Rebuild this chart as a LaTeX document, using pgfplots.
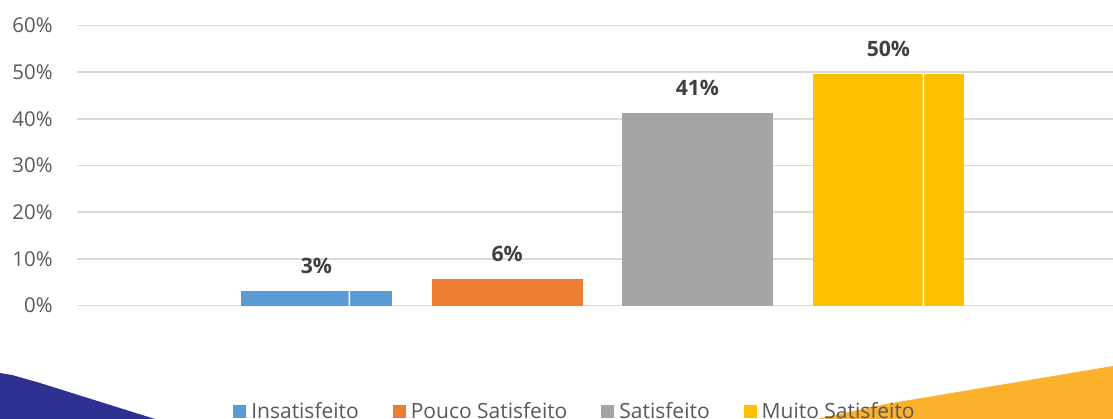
\documentclass[border=0pt]{standalone}
\usepackage{pgfplots}
\pgfplotsset{compat=1.18}
\usepackage{fontspec}
\setmainfont{Open Sans}
\definecolor{cBlue}{HTML}{5B9BD5}
\definecolor{cOrange}{HTML}{ED7D31}
\definecolor{cGray}{HTML}{A5A5A5}
\definecolor{cGold}{HTML}{FFC000}
\definecolor{gridc}{HTML}{D9D9D9}
\definecolor{tickc}{HTML}{595959}
\definecolor{labc}{HTML}{404040}
\definecolor{navy}{HTML}{2E3192}
\definecolor{amber}{HTML}{FBB12B}
\begin{document}
\begin{tikzpicture}
\useasboundingbox (0bp,0bp) rectangle (556.5bp,209.5bp);
\clip (0bp,0bp) rectangle (556.5bp,209.5bp);
\fill[navy] (0bp,23bp) -- (6bp,22bp) -- (20bp,18bp) -- (77.5bp,0bp) -- (0bp,0bp) -- cycle;
\fill[amber] (408bp,0bp) -- (443bp,7.5bp) -- (556.5bp,26.5bp) -- (556.5bp,0bp) -- cycle;
\begin{axis}[
  at={(38.5bp,56.75bp)}, anchor=south west,
  scale only axis, width=518bp, height=140bp,
  xmin=77, xmax=1113, ymin=0, ymax=60,
  xtick=\empty, ytick={0,10,...,60},
  ymajorgrids, grid style={gridc, line width=0.7bp},
  axis line style={draw=none},
  major tick length=0pt,
  /pgf/number format/assume math mode=true,
  yticklabel={\pgfmathprintnumber{\tick}\%},
  yticklabel style={font=\fontsize{10.2bp}{12bp}\selectfont, text=tickc, anchor=east, inner sep=0pt, xshift=-12bp},
  clip=false,
  legend columns=4,
  legend style={at={(0.1509,-0.3786)}, anchor=west, draw=none, fill=none, inner sep=0pt, outer sep=0pt,
    font=\fontsize{10.5bp}{12bp}\selectfont, text=tickc,
    nodes={inner sep=0pt},
    /tikz/every odd column/.append style={column sep=2.5bp},
    /tikz/every even column/.append style={column sep=17bp}},
  legend image code/.code={\fill[#1] (0bp,-3.25bp) rectangle (6.5bp,3.25bp);},
  lab/.style={nodes near coords={\pgfmathprintnumber[fixed,precision=0]{\pgfplotspointmeta}\%},
    nodes near coords style={anchor=center, yshift=12.5bp, inner sep=0pt, text=labc, font=\fontsize{10.6bp}{13bp}\selectfont\bfseries}},
]
\addplot[ybar, bar width=151, bar shift=0, fill=cBlue, draw=none, lab] coordinates {(316.4,3.1)};
\addlegendentry{Insatisfeito}
\addplot[ybar, bar width=151, bar shift=0, fill=cOrange, draw=none, lab] coordinates {(507.2,5.7)};
\addlegendentry{Pouco Satisfeito}
\addplot[ybar, bar width=151, bar shift=0, fill=cGray, draw=none, lab] coordinates {(697.4,41.2)};
\addlegendentry{Satisfeito}
\addplot[ybar, bar width=151, bar shift=0, fill=cGold, draw=none, lab] coordinates {(888.4,49.6)};
\addlegendentry{Muito Satisfeito}
\addplot[ybar, bar width=1.4, bar shift=0, fill=white, draw=none, forget plot] coordinates {(349.3,3.1) (923.3,49.6)};
\end{axis}
\end{tikzpicture}
\end{document}
